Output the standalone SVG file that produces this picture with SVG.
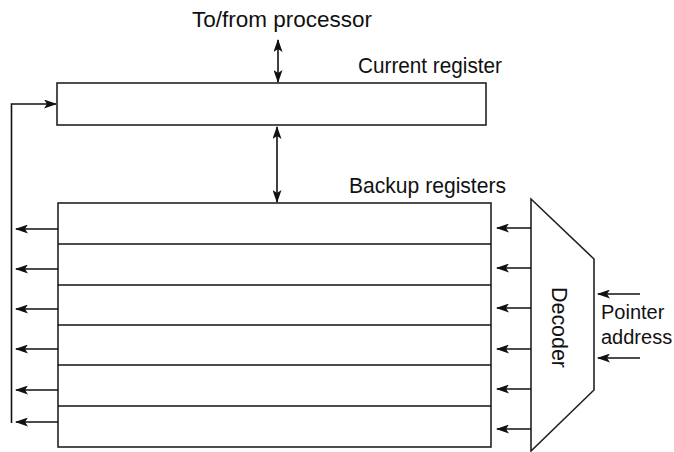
<svg xmlns="http://www.w3.org/2000/svg" width="674" height="452" viewBox="0 0 674 452">
<style>
.t{font-family:"Liberation Sans",Arial,sans-serif;font-size:22px;fill:#111}
.p{font-family:"Liberation Sans",Arial,sans-serif;font-size:20px;fill:#111}
.b{fill:#fff;stroke:#222;stroke-width:1.6}
.c{stroke:#111;stroke-width:1.6;fill:none}
.a{stroke:#111;stroke-width:1.6;fill:none;marker-end:url(#ah)}
.d{stroke:#111;stroke-width:1.6;fill:none;marker-start:url(#ahs);marker-end:url(#ah)}
</style>
<defs>
<marker id="ah" viewBox="0 0 13 9" refX="12" refY="4.5" markerWidth="13" markerHeight="9" markerUnits="userSpaceOnUse" orient="auto">
<path d="M0,0 L13,4.5 L0,9 L3,4.5 Z" fill="#111"/>
</marker>
<marker id="ahs" viewBox="0 0 13 9" refX="1" refY="4.5" markerWidth="13" markerHeight="9" markerUnits="userSpaceOnUse" orient="auto">
<path d="M13,0 L0,4.5 L13,9 L10,4.5 Z" fill="#111"/>
</marker>
</defs>
<g id="processor-label"><text class="t" x="192" y="27" textLength="180" lengthAdjust="spacingAndGlyphs">To/from processor</text></g>
<g id="current-register">
<rect class="b" x="57" y="83" width="429" height="42"/>
<text class="t" x="358" y="73" textLength="144" lengthAdjust="spacingAndGlyphs">Current register</text>
</g>
<g id="backup-registers">
<rect class="b" x="58" y="203" width="433" height="244"/>
<line class="c" x1="58" y1="244" x2="491" y2="244"/>
<line class="c" x1="58" y1="285" x2="491" y2="285"/>
<line class="c" x1="58" y1="325" x2="491" y2="325"/>
<line class="c" x1="58" y1="365" x2="491" y2="365"/>
<line class="c" x1="58" y1="406" x2="491" y2="406"/>
<text class="t" x="349" y="193" textLength="157" lengthAdjust="spacingAndGlyphs">Backup registers</text>
</g>
<g id="decoder">
<polygon class="b" points="531,199 594,259 594,390 531,451"/>
<text class="t" text-anchor="middle" textLength="81" lengthAdjust="spacingAndGlyphs" transform="translate(552,327.5) rotate(90)">Decoder</text>
</g>
<g id="pointer-label">
<text class="p" x="601" y="319">Pointer</text>
<text class="p" x="601" y="344">address</text>
</g>
<g id="connectors">
<line class="d" x1="278" y1="40" x2="278" y2="82"/>
<line class="d" x1="277" y1="127" x2="277" y2="202"/>
<polyline class="a" points="11.5,423 11.5,104 56,104"/>
<line class="a" x1="58" y1="229" x2="16" y2="229"/>
<line class="a" x1="58" y1="269" x2="16" y2="269"/>
<line class="a" x1="58" y1="309" x2="16" y2="309"/>
<line class="a" x1="58" y1="349" x2="16" y2="349"/>
<line class="a" x1="58" y1="390" x2="16" y2="390"/>
<line class="a" x1="58" y1="422" x2="16" y2="422"/>
<line class="a" x1="531" y1="228" x2="497" y2="228"/>
<line class="a" x1="531" y1="268" x2="497" y2="268"/>
<line class="a" x1="531" y1="308" x2="497" y2="308"/>
<line class="a" x1="531" y1="349" x2="497" y2="349"/>
<line class="a" x1="531" y1="389" x2="497" y2="389"/>
<line class="a" x1="531" y1="429" x2="497" y2="429"/>
<line class="a" x1="640" y1="294" x2="598" y2="294"/>
<line class="a" x1="640" y1="358" x2="598" y2="358"/>
</g>
</svg>
